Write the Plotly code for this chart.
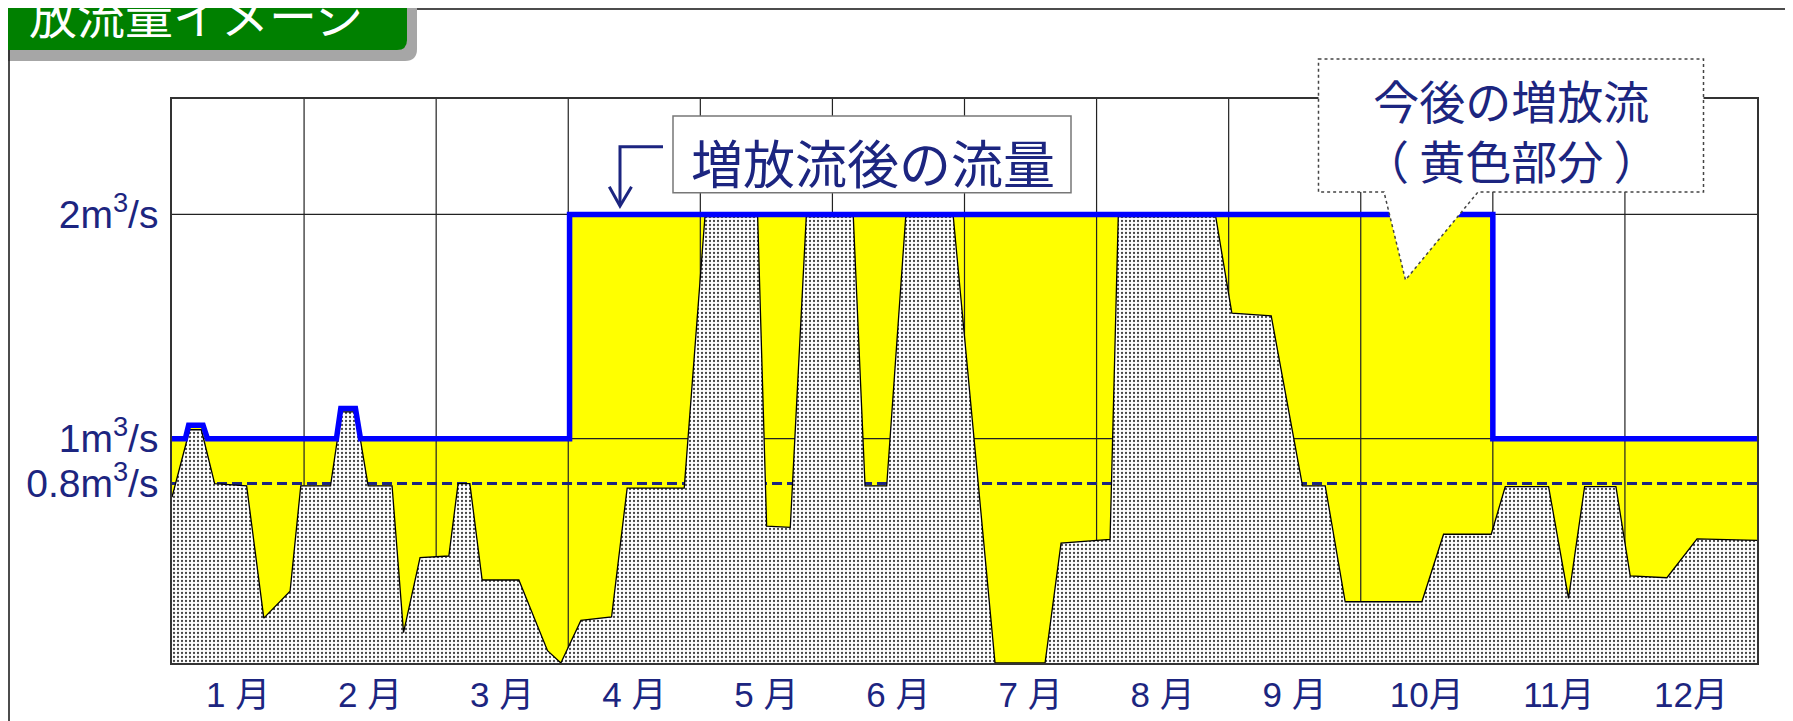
import plotly.graph_objects as go

# ---------------- data ----------------
months = ["1 月", "2 月", "3 月", "4 月", "5 月", "6 月",
          "7 月", "8 月", "9 月", "10月", "11月", "12月"]
month_pos = [0.5, 1.5, 2.5, 3.5, 4.5, 5.5, 6.5, 7.5, 8.5, 9.5, 10.5, 11.5]

# natural (current) flow, month-scale x (0 = start of Jan, 12 = end of Dec), m3/s
natural_x = [0.0, 0.134, 0.222, 0.323, 0.565, 0.695, 0.894, 0.975, 1.20, 1.283,
             1.391, 1.485, 1.666, 1.753, 1.878, 2.096, 2.166, 2.255, 2.348, 2.626,
             2.843, 2.944, 3.096, 3.328, 3.446, 3.878, 4.035, 4.434, 4.502, 4.681,
             4.802, 5.158, 5.247, 5.411, 5.555, 5.915, 6.231, 6.61, 6.731, 7.102,
             7.164, 7.902, 8.024, 8.322, 8.559, 8.731, 8.882, 9.463, 9.627, 9.988,
             10.094, 10.422, 10.573, 10.695, 10.932, 11.04, 11.318, 11.546, 12.0]
natural_y = [0.74, 1.04, 1.04, 0.80, 0.79, 0.20, 0.32, 0.79, 0.79, 1.12,
             1.12, 0.79, 0.79, 0.135, 0.47, 0.477, 0.80, 0.80, 0.37, 0.37,
             0.055, 0.0, 0.19, 0.205, 0.78, 0.78, 1.99, 1.99, 0.61, 0.605,
             1.99, 1.99, 0.79, 0.79, 1.99, 1.99, 0.0, 0.0, 0.534, 0.551,
             1.99, 1.99, 1.56, 1.548, 0.79, 0.79, 0.273, 0.273, 0.574, 0.574,
             0.786, 0.786, 0.288, 0.786, 0.786, 0.388, 0.38, 0.553, 0.547]

# flow after increased release
release_x = [0.0, 0.101, 0.126, 0.235, 0.268, 1.245, 1.278, 1.389, 1.427,
             3.01, 3.01, 10.0, 10.0, 12.0]
release_y = [1.0, 1.0, 1.06, 1.06, 1.0, 1.0, 1.135, 1.135, 1.0,
             1.0, 2.0, 2.0, 1.0, 1.0]

min_flow = 0.8
ytick_vals = [0.8, 1, 2]
ytick_text = ["0.8m<sup>3</sup>/s", "1m<sup>3</sup>/s", "2m<sup>3</sup>/s"]
grid_values = [1, 2]
y_max = 2.5145

title_text = "放流量イメージ"
legend_text = "増放流後の流量"
callout_text = "今後の増放流<br>（ 黄色部分 ）"

# ---------------- layout helpers ----------------
# the page body has an 8px margin, so the figure is drawn 8px smaller and
# all window positions below are converted to figure (paper) positions
OFF = 8
W, H = 1793 - OFF, 721 - OFF
L, R, T, B = 164, 36, 91, 58
PW, PH = W - L - R, H - T - B
NAVY = "#1c2580"


def px(x):
    return (x - OFF - L) / PW


def py(y):
    return (H - B - (y - OFF)) / PH


def path(points, close=True):
    s = "M " + " L ".join(f"{px(x):.5f},{py(y):.5f}" for x, y in points)
    return s + (" Z" if close else "")


def rounded_box(x0, y0, x1, y1, r):
    # rounded only at bottom-right corner
    return (f"M {px(x0):.5f},{py(y0):.5f} L {px(x1):.5f},{py(y0):.5f} "
            f"L {px(x1):.5f},{py(y1 - r):.5f} "
            f"Q {px(x1):.5f},{py(y1):.5f} {px(x1 - r):.5f},{py(y1):.5f} "
            f"L {px(x0):.5f},{py(y1):.5f} Z")


fig = go.Figure()

# yellow: area up to the increased flow
fig.add_trace(go.Scatter(x=release_x, y=release_y, mode="lines", fill="tozeroy",
                         fillcolor="#ffff00", line=dict(width=0), hoverinfo="skip"))

# grid lines (drawn over yellow, under natural flow)
gx, gy = [], []
for i in range(1, len(months)):
    gx += [i, i, None]
    gy += [0, y_max, None]
for v in grid_values:
    gx += [0, len(months), None]
    gy += [v, v, None]
fig.add_trace(go.Scatter(x=gx, y=gy, mode="lines",
                         line=dict(color="#222222", width=1.2), hoverinfo="skip"))

# 0.8 m3/s dashed line
fig.add_trace(go.Scatter(x=[0, len(months)], y=[min_flow, min_flow], mode="lines",
                         line=dict(color=NAVY, width=3, dash="10px,5px"),
                         hoverinfo="skip"))

# natural flow (dotted gray)
fig.add_trace(go.Scatter(x=natural_x, y=natural_y, mode="lines", fill="tozeroy",
                         fillcolor="#e0e0e0",
                         fillpattern=dict(shape=".", size=4, solidity=0.25,
                                          fgcolor="#444444", bgcolor="#ffffff",
                                          fillmode="replace"),
                         line=dict(color="#000000", width=1.3), hoverinfo="skip"))

# increased release line
fig.add_trace(go.Scatter(x=release_x, y=release_y, mode="lines",
                         line=dict(color="#0000ff", width=5.5), hoverinfo="skip"))

shapes = [
    # title shadow and box
    dict(type="path", xref="paper", yref="paper", path=rounded_box(-30, -30, 417, 61, 12),
         fillcolor="#a6a6a6", line=dict(width=0)),
    dict(type="path", xref="paper", yref="paper", path=rounded_box(-30, -30, 407, 50, 10),
         fillcolor="#008000", line=dict(width=0)),
    # outer frame lines
    dict(type="line", xref="paper", yref="paper", x0=px(9), x1=px(9),
         y0=py(50), y1=py(730), line=dict(color="#111111", width=1.5)),
    dict(type="line", xref="paper", yref="paper", x0=px(417), x1=px(1800),
         y0=py(9), y1=py(9), line=dict(color="#111111", width=1.3)),
    # legend label box
    dict(type="rect", xref="paper", yref="paper", x0=px(673), x1=px(1071),
         y0=py(116), y1=py(192.7), fillcolor="#ffffff", line=dict(color="#777777", width=1.5)),
    # arrow
    dict(type="path", xref="paper", yref="paper",
         path=path([(663, 146.7), (620, 146.7), (620, 205)], close=False),
         line=dict(color=NAVY, width=3)),
    dict(type="path", xref="paper", yref="paper",
         path=path([(609.3, 186.7), (620, 206), (631.5, 186.7)], close=False),
         line=dict(color=NAVY, width=3)),
    # callout
    dict(type="path", xref="paper", yref="paper",
         path=path([(1318.5, 59), (1703.5, 59), (1703.5, 192), (1478, 192),
                    (1405.5, 280), (1384, 192), (1318.5, 192)]),
         fillcolor="#ffffff", line=dict(color="#444444", width=1.5, dash="dot")),
]

cjk = "Noto Sans CJK JP"
annotations = [
    dict(text=title_text, xref="paper", yref="paper", x=px(27), y=py(13),
         xanchor="left", yanchor="middle", showarrow=False,
         font=dict(family=cjk, size=48, color="#ffffff")),
    dict(text=legend_text, xref="paper", yref="paper", x=px(872.5), y=py(161.7),
         xanchor="center", yanchor="middle", showarrow=False,
         font=dict(family=cjk, size=52, color=NAVY)),
    dict(text=callout_text, xref="paper", yref="paper", x=px(1511), y=py(129),
         xanchor="center", yanchor="middle", showarrow=False, align="center",
         font=dict(family=cjk, size=46, color=NAVY)),
]

fig.update_layout(
    width=W, height=H,
    margin=dict(l=L, r=R, t=T, b=B, pad=0, autoexpand=False),
    paper_bgcolor="#ffffff", plot_bgcolor="#ffffff",
    showlegend=False,
    shapes=shapes, annotations=annotations,
    xaxis=dict(range=[0, len(months)], tickvals=month_pos, ticktext=months,
               showgrid=False, zeroline=False, showline=True, mirror=True,
               linecolor="#333333", linewidth=1.5, ticks="", ticklabelstandoff=0,
               automargin=False,
               tickfont=dict(family="Liberation Sans, Noto Sans CJK JP", size=35, color=NAVY),
               fixedrange=True),
    yaxis=dict(range=[0, y_max], tickvals=ytick_vals, ticktext=ytick_text,
               showgrid=False, zeroline=False, showline=True, mirror=True,
               linecolor="#333333", linewidth=1.5, ticks="", ticklabelstandoff=4,
               automargin=False,
               tickfont=dict(family="Liberation Sans, Noto Sans CJK JP", size=39, color=NAVY),
               fixedrange=True),
)

fig.write_html("out.html")
